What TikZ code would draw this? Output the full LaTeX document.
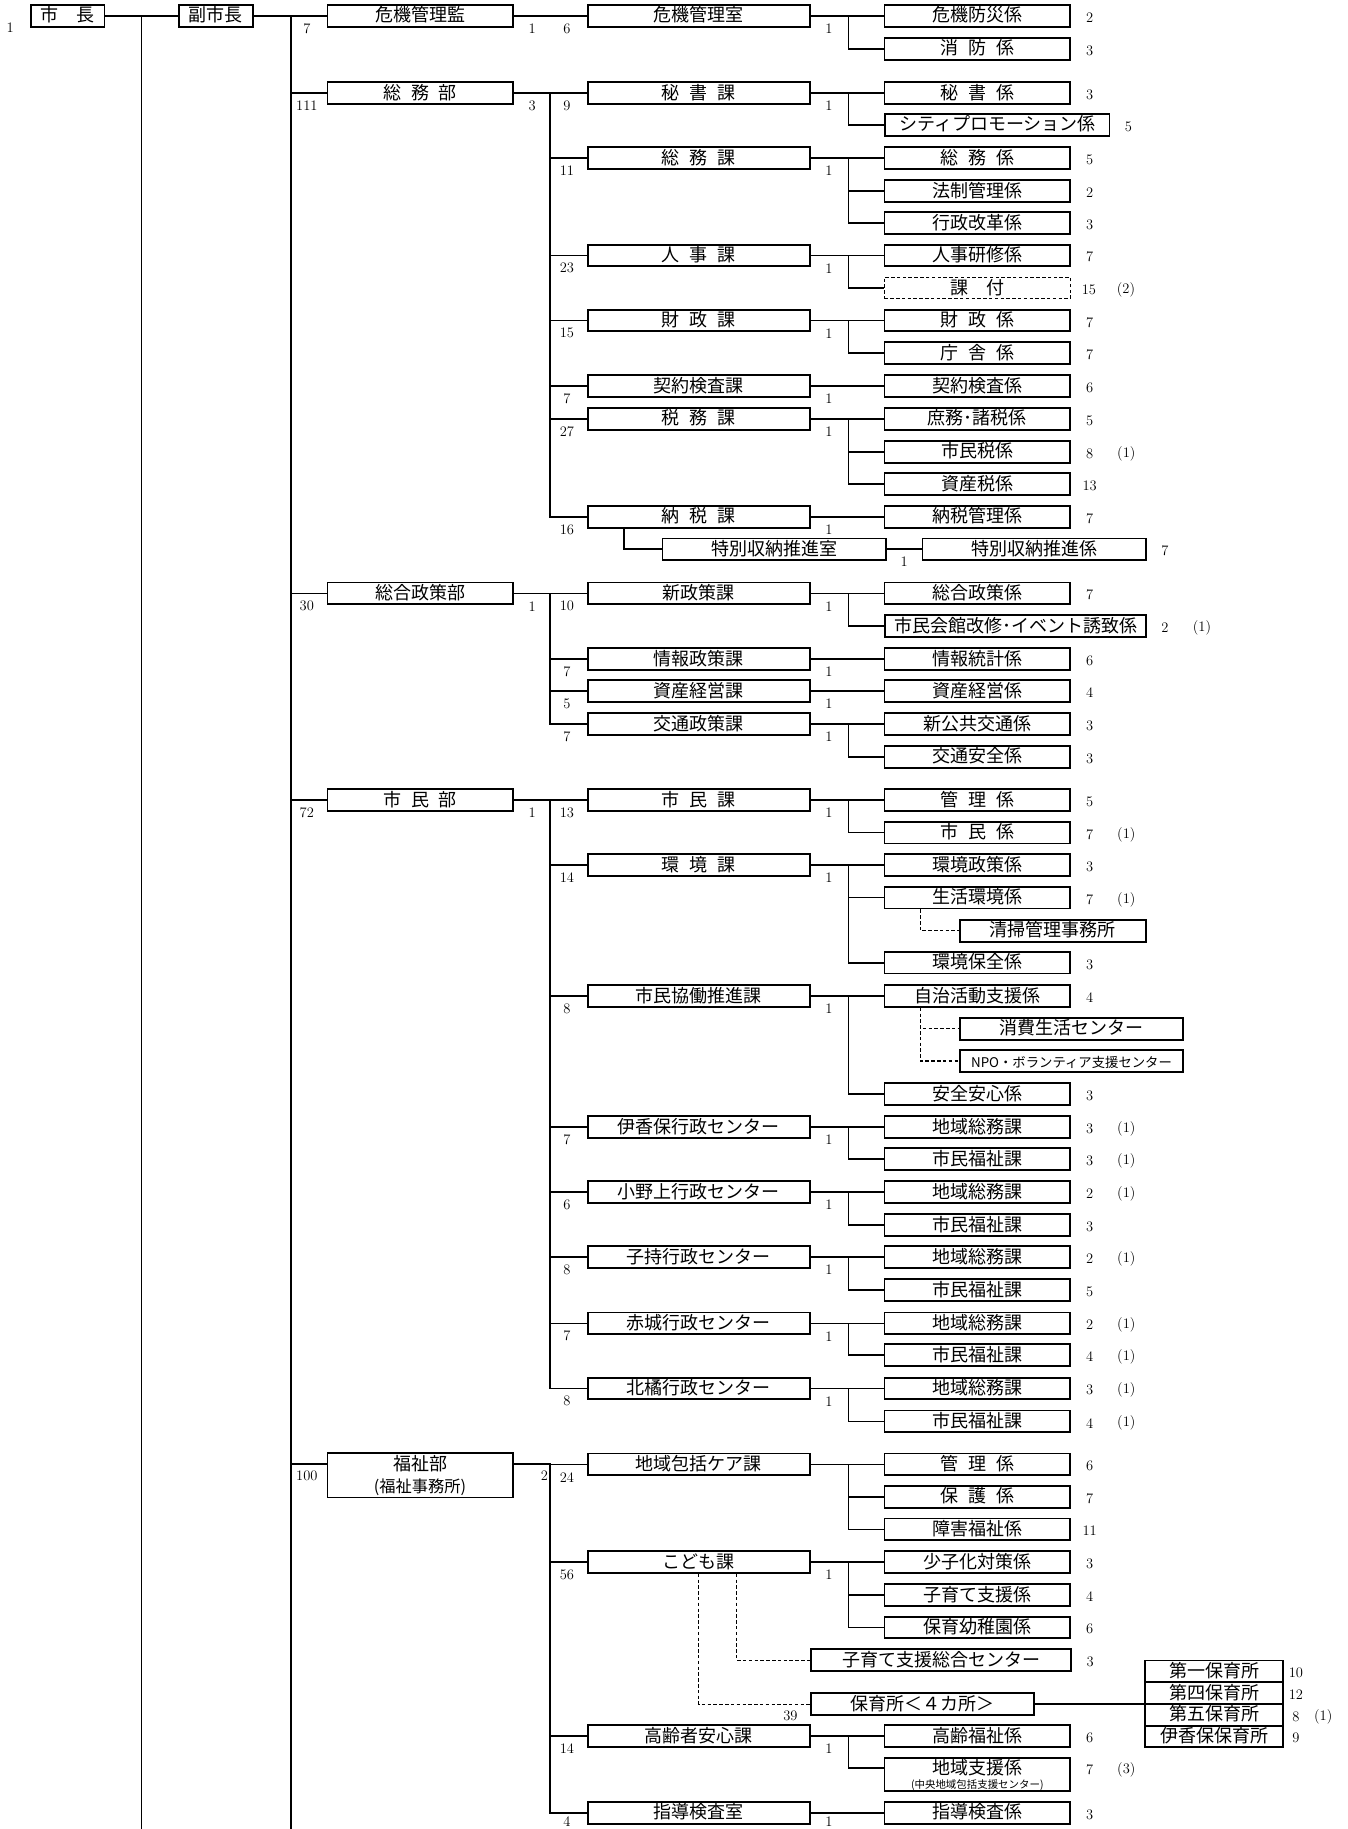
\documentclass[tikz,border=0pt]{standalone}
\usepackage{fontspec}
\newfontfamily\jp{Noto Sans CJK JP}
\usetikzlibrary{calc, positioning}
\tikzset{
    box/.style={draw, line width=1.6pt, inner sep=0pt, minimum height=18.7pt,
        font=\jp\fontsize{15.5}{18}\selectfont},
    unit/.style={box, text height=13pt, text depth=2.5pt},
    bu/.style={unit, minimum width=159.5pt},
    ka/.style={unit, minimum width=191.5pt},
    kk/.style={unit, minimum width=160pt},
    num/.style={inner sep=0pt, font=\fontsize{12.5}{12.5}\selectfont},
    link/.style={line width=1.4pt},
    guide/.style={line width=1pt, dash pattern=on 3pt off 2pt},
}
\newcommand{\hs}{\hspace{0.55em}}
\begin{document}
\begin{tikzpicture}[x=1pt, y=-1pt]
    \useasboundingbox (0,0) rectangle (1160,1575);
    \coordinate (s1) at (122,0);
    \coordinate (s2) at (250.7,0);
    \coordinate (s3) at (473.7,0);
    \coordinate (s4) at (730.6,0);
    \coordinate (bottom) at (0,1575);
    % top
    \node[unit, minimum width=63pt] (shicho) at (58.5,13.6) {市　長};
    \node[num] (n_shicho) at ([shift={(-17.5,10.5)}]shicho.west) {1};
    \node[unit, minimum width=64pt] (fuku) at (186,13.6) {副市長};
    % departments
    \foreach \nm/\y/\txt/\cnt/\one in {kikikan/13.6/危機管理監/7/1, somu/80/総\hs 務\hs 部/111/3,
        seisaku/511/総合政策部/30/1, shimin/689/市\hs 民\hs 部/72/1} {
        \node[bu] (\nm) at (361.75,\y) {\txt};
        \node[num] (l\nm) at ([shift={(-17,11)}]\nm.west) {\cnt};
        \node[num] (r\nm) at ([shift={(16,11)}]\nm.east) {\one};
    }
    \node[box, minimum width=159.5pt, minimum height=38pt, align=center] (fukushi) at (361.75,1270.5)
        {福祉部\\[1.5pt]{\fontsize{14}{14}\selectfont (福祉事務所)}};
    \coordinate (fukushiIn) at ($(fukushi.north west)!0.25!(fukushi.south west)$);
    \coordinate (fukushiOut) at ($(fukushi.north east)!0.25!(fukushi.south east)$);
    \node[num] (lfukushi) at ([shift={(-17,10)}]fukushiIn) {100};
    \node[num] (rfukushi) at ([shift={(26.5,10)}]fukushiOut) {2};
    % sections
    \foreach \nm/\y/\txt/\cnt in {kikishitsu/13.6/危機管理室/6, hisho/80/秘\hs 書\hs 課/9,
        somuka/136/総\hs 務\hs 課/11, jinji/220/人\hs 事\hs 課/23, zaisei/276/財\hs 政\hs 課/15,
        keiyaku/332.5/契約検査課/7, zeimu/360.6/税\hs 務\hs 課/27, nozei/445/納\hs 税\hs 課/16,
        shinseisaku/511/新政策課/10, joho/567.5/情報政策課/7, shisan/595/資産経営課/5,
        kotsu/623.5/交通政策課/7, shiminka/689/市\hs 民\hs 課/13, kankyo/745/環\hs 境\hs 課/14,
        kyodo/857.7/市民協働推進課/8, ikaho/970.6/伊香保行政センター/7,
        onogami/1026.6/小野上行政センター/6, komochi/1082.6/子持行政センター/8,
        akagi/1139.6/赤城行政センター/7, hokkitsu/1195.6/北橘行政センター/8,
        chiiki/1261/地域包括ケア課/24, kodomo/1345/こども課/56, koreisha/1495/高齢者安心課/14} {
        \node[ka] (\nm) at (601.75,\y) {\txt};
        \node[num] (l\nm) at ([shift={(-17,11)}]\nm.west) {\cnt};
    }
    \node[ka] (shido) at (601.75,1561) {指導検査室};
    \node[num] (lshido) at ([shift={(-17,7.5)}]shido.west) {4};
    \node[num] (oshido) at ([shift={(15.5,7.5)}]shido.east) {1};
    \foreach \k in {kikishitsu,hisho,somuka,jinji,zaisei,keiyaku,zeimu,nozei,shinseisaku,joho,
        shisan,kotsu,shiminka,kankyo,kyodo,ikaho,onogami,komochi,akagi,hokkitsu,kodomo,koreisha}
        \node[num] (o\k) at ([shift={(15.5,11)}]\k.east) {1};
    % units
    \foreach \nm/\y/\txt/\cnt in {kiki1/13.6/危機防災係/2, kiki2/42/消\hs 防\hs 係/3,
        hisho1/80/秘\hs 書\hs 係/3, somu1/136/総\hs 務\hs 係/5, somu2/164.4/法制管理係/2,
        somu3/192/行政改革係/3, jinji1/220/人事研修係/7, zaisei1/276/財\hs 政\hs 係/7,
        zaisei2/304/庁\hs 舎\hs 係/7, keiyaku1/332.5/契約検査係/6, zeimu1/360.6/庶務･諸税係/5,
        zeimu2/389/市民税係/8, zeimu3/417/資産税係/13, nozei1/445/納税管理係/7,
        seisaku1/511/総合政策係/7, joho1/567.5/情報統計係/6, shisan1/595/資産経営係/4,
        kotsu1/623.5/新公共交通係/3, kotsu2/651.7/交通安全係/3, shimin1/689/管\hs 理\hs 係/5,
        shimin2/717/市\hs 民\hs 係/7, kankyo1/745/環境政策係/3, kankyo2/773/生活環境係/7,
        kankyo3/829/環境保全係/3, kyodo1/857.7/自治活動支援係/4, kyodo2/942/安全安心係/3,
        ikaho1/970.6/地域総務課/3, ikaho2/998/市民福祉課/3, onogami1/1026.6/地域総務課/2,
        onogami2/1055/市民福祉課/3, komochi1/1082.6/地域総務課/2, komochi2/1111/市民福祉課/5,
        akagi1/1139.6/地域総務課/2, akagi2/1167/市民福祉課/4, hokkitsu1/1195.6/地域総務課/3,
        hokkitsu2/1224/市民福祉課/4, chiiki1/1261/管\hs 理\hs 係/6, chiiki2/1289/保\hs 護\hs 係/7,
        chiiki3/1317/障害福祉係/11, kodomo1/1345/少子化対策係/3, kodomo2/1373.7/子育て支援係/4,
        kodomo3/1401.5/保育幼稚園係/6, koreisha1/1495/高齢福祉係/6, shido1/1561/指導検査係/3} {
        \node[kk] (\nm) at (841.6,\y) {\txt};
        \node[num] (c\nm) at ([shift={(16,1.5)}]\nm.east) {\cnt};
    }
    \node[kk, minimum width=193pt, anchor=west] (hisho2) at (761.6,107.5) {シティプロモーション係};
    \node[kk, line width=1.1pt, dash pattern=on 3pt off 2pt] (jinji2) at (841.6,248) {課　付};
    \node[unit, minimum width=192.3pt, anchor=west] (tokubetsu) at (569.7,473) {特別収納推進室};
    \node[unit, minimum width=192.4pt, anchor=west] (tokubetsu1) at (793.6,473) {特別収納推進係};
    \node[unit, minimum width=224.4pt, anchor=west] (seisaku2) at (761.6,539) {市民会館改修･イベント誘致係};
    \node[unit, minimum width=160.2pt, anchor=west] (seiso) at (825.8,801.6) {清掃管理事務所};
    \node[unit, minimum width=192.2pt, anchor=west] (shohi) at (825.8,886) {消費生活センター};
    \node[unit, minimum width=192.2pt, anchor=west, font=\jp\fontsize{11.5}{12}\selectfont] (npo)
        at (825.8,913.7) {NPO・ボランティア支援センター};
    \node[unit, minimum width=224pt, anchor=west] (kosodateC) at (697.7,1429.6) {子育て支援総合センター};
    \node[unit, minimum width=191.7pt, anchor=west] (hoikusho) at (697.7,1467.5) {保育所＜４カ所＞};
    \node[kk, minimum height=28pt, text depth=12.5pt] (shien) at (841.6,1528) {地域支援係};
    \node[inner sep=0pt, anchor=south, font=\jp\fontsize{9}{9}\selectfont] (shienSub)
        at ([yshift=0.5pt]shien.south) {(中央地域包括支援センター)};
    \coordinate (shienIn) at ($(shien.north west)!0.32!(shien.south west)$);
    \node[kk, minimum width=119pt, outer sep=0pt] (daiichi) at (1045.5,1439.2) {第一保育所};
    \node[kk, minimum width=119pt, outer sep=0pt, below=0pt of daiichi] (daiyon) {第四保育所};
    \node[kk, minimum width=119pt, outer sep=0pt, below=0pt of daiyon] (daigo) {第五保育所};
    \node[kk, minimum width=119pt, outer sep=0pt, below=0pt of daigo] (ikahoH) {伊香保保育所};
    % counts of the wide boxes
    \foreach \k/\cnt in {hisho2/5, jinji2/15, tokubetsu1/7, seisaku2/2, kosodateC/3}
        \node[num] (c\k) at ([shift={(15.5,1.5)}]\k.east) {\cnt};
    \foreach \k/\cnt in {daiichi/10, daiyon/12, daigo/8, ikahoH/9}
        \node[num] (c\k) at ([shift={(11,1.5)}]\k.east) {\cnt};
    \node[num] (xdaigo) at ([shift={(34.5,1.5)}]daigo.east) {(1)};
    \node[num] (cshien) at ([shift={(16,-4)}]shien.east) {7};
    \node[num] (xshien) at ([shift={(47.5,-4)}]shien.east) {(3)};
    \foreach \k/\ex in {jinji2/(2), zeimu2/(1), seisaku2/(1), shimin2/(1), kankyo2/(1),
        ikaho1/(1), ikaho2/(1), onogami1/(1), komochi1/(1), akagi1/(1), akagi2/(1),
        hokkitsu1/(1), hokkitsu2/(1)}
        \node[num] (x\k) at ([shift={(47.5,1.5)}]\k.east) {\ex};
    \node[num] (otokubetsu) at ([shift={(15,11)}]tokubetsu.east) {1};
    \node[num] (lhoikusho) at ([shift={(-17,10)}]hoikusho.west) {39};
    % connectors
    \draw[link] (shicho) -- (fuku);
    \draw[link] (shicho.east -| s1) -- (s1 |- bottom);
    \draw[link] (fuku) -- (kikikan);
    \draw[link] (fuku.east -| s2) -- (s2 |- bottom);
    \foreach \b in {somu,seisaku,shimin}
        \draw[link] (s2 |- \b.west) -- (\b.west);
    \draw[link] (s2 |- fukushiIn) -- (fukushiIn);
    \foreach \a/\b in {kikikan/kikishitsu, somu/hisho, somu/somuka, somu/jinji, somu/zaisei,
        somu/keiyaku, somu/zeimu, somu/nozei, seisaku/shinseisaku, seisaku/joho, seisaku/shisan,
        seisaku/kotsu, shimin/shiminka, shimin/kankyo, shimin/kyodo, shimin/ikaho, shimin/onogami,
        shimin/komochi, shimin/akagi, shimin/hokkitsu}
        \draw[link] (\a.east) -- (\a.east -| s3) |- (\b.west);
    \foreach \b in {chiiki,kodomo,koreisha,shido}
        \draw[link] (fukushiOut) -- (fukushiOut -| s3) |- (\b.west);
    \foreach \a/\b in {kikishitsu/kiki1, kikishitsu/kiki2, hisho/hisho1, hisho/hisho2,
        somuka/somu1, somuka/somu2, somuka/somu3, jinji/jinji1, jinji/jinji2, zaisei/zaisei1,
        zaisei/zaisei2, keiyaku/keiyaku1, zeimu/zeimu1, zeimu/zeimu2, zeimu/zeimu3, nozei/nozei1,
        shinseisaku/seisaku1, shinseisaku/seisaku2, joho/joho1, shisan/shisan1, kotsu/kotsu1,
        kotsu/kotsu2, shiminka/shimin1, shiminka/shimin2, kankyo/kankyo1, kankyo/kankyo2,
        kankyo/kankyo3, kyodo/kyodo1, kyodo/kyodo2, ikaho/ikaho1, ikaho/ikaho2, onogami/onogami1,
        onogami/onogami2, komochi/komochi1, komochi/komochi2, akagi/akagi1, akagi/akagi2,
        hokkitsu/hokkitsu1, hokkitsu/hokkitsu2, chiiki/chiiki1, chiiki/chiiki2, chiiki/chiiki3,
        kodomo/kodomo1, kodomo/kodomo2, kodomo/kodomo3, koreisha/koreisha1, shido/shido1}
        \draw[link] (\a.east) -- (\a.east -| s4) |- (\b.west);
    \draw[link] (koreisha.east -| s4) |- (shienIn);
    \draw[link] ($(nozei.south west)+(32,0)$) |- (tokubetsu.west);
    \draw[link] (tokubetsu) -- (tokubetsu1);
    \draw[guide] ($(kankyo2.south west)+(32,0)$) |- (seiso.west);
    \foreach \b in {shohi,npo}
        \draw[guide] ($(kyodo1.south west)+(32,0)$) |- (\b.west);
    \draw[guide] ($(kodomo.south)+(32.5,0)$) |- (kosodateC.west);
    \draw[guide] (kodomo.south) |- (hoikusho.west);
    \draw[link] (hoikusho.east) -- (hoikusho.east -| daigo.west);
\end{tikzpicture}
\end{document}
